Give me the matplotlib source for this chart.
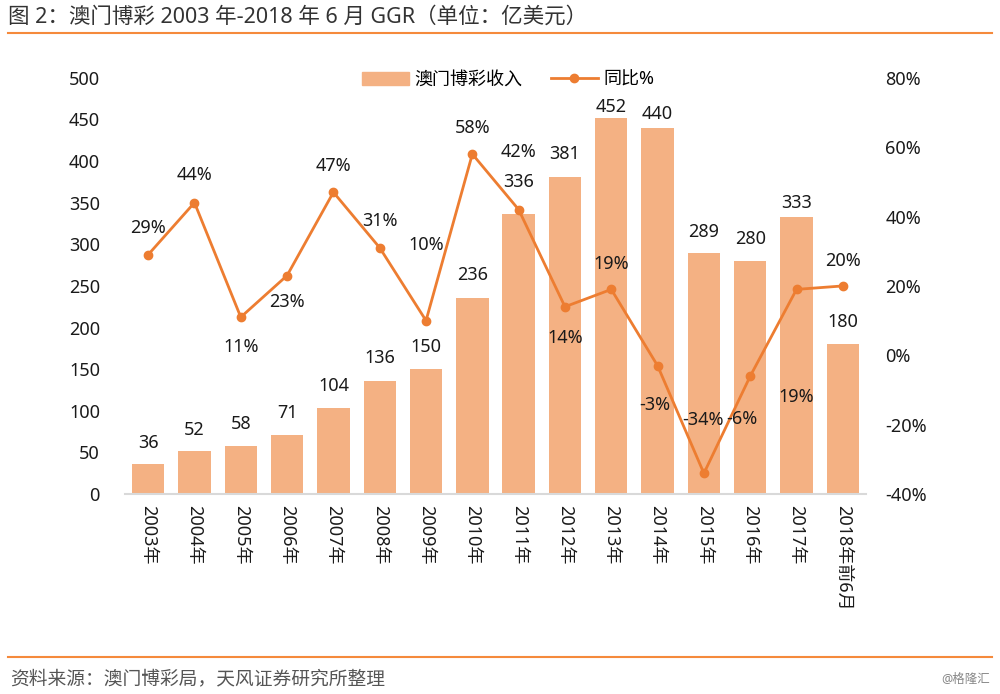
import matplotlib
matplotlib.use("Agg")
import matplotlib.pyplot as plt
from matplotlib.lines import Line2D

plt.rcParams['font.family'] = ['Noto Sans', 'Noto Sans CJK SC', 'DejaVu Sans']

years = ["2003年", "2004年", "2005年", "2006年", "2007年", "2008年", "2009年", "2010年",
         "2011年", "2012年", "2013年", "2014年", "2015年", "2016年", "2017年", "2018年前6月"]
ggr = [36, 52, 58, 71, 104, 136, 150, 236, 336, 381, 452, 440, 289, 280, 333, 180]
yoy = [29, 44, 11, 23, 47, 31, 10, 58, 42, 14, 19, -3, -34, -6, 19, 20]
bar_label_offsets = [21, 21, 22, 22, 22, 23, 22, 23, 32, 23, 11, 14, 21, 22, 14, 22]
yoy_label_offsets = [(0, 27), (0, 28), (0, -30), (0, -26), (0, 26), (0, 27), (0, 76), (0, 26),
                     (0, 58), (0, -31), (0, 25), (-3, -39), (-1, 53), (-8, -43), (0, -108), (0, 25)]

bar_color = "#F4B183"
line_color = "#ED7D31"
text_color = "#1a1a1a"

fig = plt.figure(figsize=(10, 6.94), dpi=100)
ax = fig.add_axes([0.125, 0.288, 0.741, 0.6])
x = list(range(len(years)))
ax.bar(x, ggr, width=0.7, color=bar_color, zorder=1)
ax.set_xlim(-0.5, len(years) - 0.5)
ax.set_ylim(0, 500)
ax.set_yticks(range(0, 501, 50))
for s in ["top", "right", "left"]:
    ax.spines[s].set_visible(False)
ax.spines["bottom"].set_color("#D9D9D9")
ax.spines["bottom"].set_linewidth(1.5)
ax.tick_params(axis="y", length=0, labelsize=13, labelcolor=text_color, pad=18)
ax.tick_params(axis="x", length=0, labelsize=13, labelcolor=text_color, pad=8)
ax.set_xticks(x)
ax.set_xticklabels(years, rotation=270, va="top", ha="center")
for xi, v, off in zip(x, ggr, bar_label_offsets):
    ax.annotate(str(v), (xi, v), xytext=(0, off), textcoords="offset pixels",
                ha="center", va="center", fontsize=13, color=text_color)

ax2 = ax.twinx()
ax2.set_ylim(-40, 80)
ax2.set_yticks(range(-40, 81, 20))
ax2.set_yticklabels([f"{t}%" for t in range(-40, 81, 20)])
for s in ax2.spines.values():
    s.set_visible(False)
ax2.tick_params(axis="y", length=0, labelsize=13, labelcolor=text_color, pad=14)
ax2.plot(x, yoy, color=line_color, lw=2, marker="o", ms=6, zorder=3)
for xi, v, off in zip(x, yoy, yoy_label_offsets):
    ax2.annotate(f"{v}%", (xi, v), xytext=off, textcoords="offset pixels",
                 ha="center", va="center", fontsize=13, color=text_color)

handles = [plt.Rectangle((0, 0), 1, 1, color=bar_color),
           Line2D([0], [0], color=line_color, lw=2, marker="o", ms=6)]
fig.legend(handles, ["澳门博彩收入", "同比%"], loc="center", bbox_to_anchor=(0.508, 0.885),
           ncol=2, frameon=False, fontsize=13, handlelength=2.6, columnspacing=1.6,
           handletextpad=0.3)

fig.text(0.008, 0.975, "图 2：澳门博彩 2003 年-2018 年 6 月 GGR（单位：亿美元）",
         fontsize=15.5, color="#333333", va="center", ha="left")
fig.add_artist(Line2D([0.008, 0.992], [0.952, 0.952], color="#F58A3C", lw=1.5))
fig.add_artist(Line2D([0.008, 0.992], [0.054, 0.054], color="#F58A3C", lw=1.5))
fig.text(0.01, 0.021, "资料来源：澳门博彩局，天风证券研究所整理", fontsize=13.5,
         color="#555555", va="center", ha="left")
fig.text(0.99, 0.021, "@格隆汇", fontsize=9, color="#888888", va="center", ha="right")

fig.savefig("out.png", dpi=100)
